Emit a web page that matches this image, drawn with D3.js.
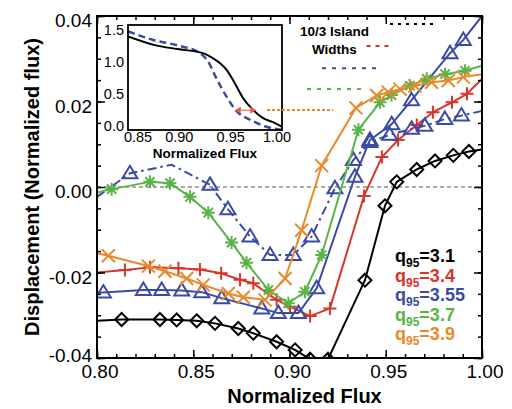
<!DOCTYPE html>
<html>
<head>
<meta charset="utf-8">
<script src="https://cdn.jsdelivr.net/npm/d3@7"></script>
<style>
  body { margin: 0; background: #fff; }
  svg { display: block; }
  text { font-family: "Liberation Sans", Arial, Helvetica, sans-serif; }
</style>
</head>
<body>
<svg id="chart" width="512" height="409"></svg>
<script>
// ---------- displacement profiles vs. normalized flux ----------
const fluxQ31 = [0.800, 0.8128, 0.8327, 0.8414, 0.8518, 0.8613, 0.8734, 0.8812, 0.8933, 0.9029, 0.9107, 0.9200, 0.9392, 0.9496, 0.9557, 0.9661, 0.9756, 0.9851, 0.9932, 1.000];
const dispQ31 = [-0.0313, -0.0310, -0.0310, -0.0311, -0.0313, -0.0319, -0.0331, -0.0342, -0.0362, -0.0381, -0.0403, -0.0403, -0.0218, -0.0044, 0.0012, 0.0041, 0.0061, 0.0074, 0.0083, 0.0088];

const fluxQ34 = [0.800, 0.8145, 0.8275, 0.8423, 0.8535, 0.8645, 0.8743, 0.8812, 0.8933, 0.9003, 0.9107, 0.9210, 0.9387, 0.9480, 0.9564, 0.9661, 0.9745, 0.9844, 0.9922, 1.000];
const dispQ34 = [-0.0200, -0.0194, -0.0188, -0.0190, -0.0193, -0.0202, -0.0217, -0.0225, -0.0264, -0.0280, -0.0302, -0.0284, -0.0021, 0.0070, 0.0110, 0.0145, 0.0175, 0.0198, 0.0218, 0.0253];

const fluxQ355 = [0.800, 0.8033, 0.8241, 0.8336, 0.8440, 0.8544, 0.8648, 0.8856, 0.8942, 0.9046, 0.9141, 0.9340, 0.9418, 0.9531, 0.9634, 0.9834, 0.9903, 1.000];
const dispQ355 = [-0.0247, -0.0247, -0.0241, -0.0241, -0.0242, -0.0246, -0.0260, -0.0284, -0.0295, -0.0295, -0.0237, 0.0024, 0.0110, 0.0147, 0.0203, 0.0313, 0.0344, 0.0400];

// second q95 = 3.55 profile (dash-dot); the peak near 0.839 is a bend with no symbol
const fluxQ355b = [0.800, 0.8171, 0.8388, 0.8587, 0.8680, 0.8795, 0.8899, 0.9020, 0.9115, 0.9236, 0.9332, 0.9418, 0.9520, 0.9634, 0.9703, 0.9807, 0.9893, 1.000];
const dispQ355b = [-0.0023, 0.0032, 0.0052, 0.0005, -0.0052, -0.0116, -0.0159, -0.0159, -0.0116, -0.0003, 0.0063, 0.0105, 0.0122, 0.0136, 0.0143, 0.0159, 0.0167, 0.0178];
const symbolQ355b = [0, 1, 0, 1, 1, 1, 1, 1, 1, 1, 1, 1, 1, 1, 1, 1, 1, 0];

const fluxQ37 = [0.800, 0.8076, 0.8275, 0.8379, 0.8483, 0.8578, 0.8699, 0.8777, 0.8890, 0.8994, 0.9080, 0.9167, 0.9358, 0.9470, 0.9530, 0.9626, 0.9713, 0.9808, 0.9912, 1.000];
const dispQ37 = [-0.0013, -0.0005, 0.0012, 0.0009, -0.0023, -0.0060, -0.0130, -0.0177, -0.0241, -0.0272, -0.0245, -0.0159, 0.0134, 0.0198, 0.0215, 0.0237, 0.0253, 0.0264, 0.0272, 0.0284];

const fluxQ39 = [0.800, 0.8059, 0.8267, 0.8353, 0.8466, 0.8552, 0.8682, 0.8760, 0.8873, 0.8977, 0.9063, 0.9167, 0.9345, 0.9453, 0.9513, 0.9574, 0.9652, 0.9738, 0.9825, 0.9903, 1.000];
const dispQ39 = [-0.0155, -0.0161, -0.0185, -0.0197, -0.0214, -0.0229, -0.0249, -0.0258, -0.0264, -0.0214, -0.0101, 0.0050, 0.0185, 0.0214, 0.0222, 0.0229, 0.0237, 0.0245, 0.0249, 0.0257, 0.0264];

const q95Values = ["3.1", "3.4", "3.55", "3.7", "3.9"];

// 10/3 island widths: [start flux, end flux] and the displacement level they are drawn at
const islandStart = [0.9522, 0.9400, 0.9169, 0.9091, 0.8883];
const islandEnd   = [0.9766, 0.9522, 0.9460, 0.9382, 0.9226];
const islandLevel = [0.0381, 0.0330, 0.0278, 0.0229, 0.0180];

// inset: profiles vs. normalized flux
const insetFluxSolid = [0.850, 0.875, 0.900, 0.923, 0.933, 0.940, 0.946, 0.953, 0.962, 0.972, 0.982, 0.990, 1.000];
const insetSolid     = [1.42, 1.29, 1.22, 1.16, 1.08, 1.00, 0.90, 0.72, 0.46, 0.27, 0.14, 0.09, 0.01];
const insetFluxDash  = [0.850, 0.874, 0.901, 0.920, 0.928, 0.936, 0.946, 0.956, 0.969, 0.985, 1.000];
const insetDash      = [1.50, 1.37, 1.27, 1.16, 1.03, 0.77, 0.48, 0.25, 0.12, 0.01, -0.04];
const insetArrowFrom = 0.954, insetArrowTo = 0.975, insetArrowLevel = 0.27;

const xTicks = [0.80, 0.85, 0.90, 0.95, 1.00];
const yTicks = [-0.04, -0.02, 0.00, 0.02, 0.04];
const insetXTicks = [0.85, 0.90, 0.95, 1.00];
const insetYTicks = [0.0, 0.5, 1.0, 1.5];

// ---------- drawing ----------
const svg = d3.select("#chart");
const fmt = d3.formatLocale({ decimal: ".", thousands: ",", grouping: [3], currency: ["", ""], minus: "-" });
const f2 = fmt.format(".2f"), f1 = fmt.format(".1f");

const L = 97, R = 482, T = 16, B = 358;
const x = d3.scaleLinear().domain([0.80, 1.00]).range([L, R]);
const y = d3.scaleLinear().domain([-0.04, 0.04]).range([B, T]);

const colors = ["#000000", "#d8352a", "#3b4ba3", "#59b448", "#e88a2c"];

const defs = svg.append("defs");
defs.append("clipPath").attr("id", "plotClip")
  .append("rect").attr("x", L).attr("y", T).attr("width", R - L).attr("height", B - T);

// zero reference line
svg.append("line")
  .attr("x1", x(0.80)).attr("x2", x(1.00)).attr("y1", y(0)).attr("y2", y(0))
  .attr("stroke", "#555").attr("stroke-width", 1).attr("stroke-dasharray", "4,3");

// marker shapes
const markerPath = {
  diamond: "M0,-6.5L6.5,0L0,6.5L-6.5,0Z",
  plus: "M-6.5,0H6.5M0,-6.5V6.5",
  triangle: "M0,-7.5L7.5,5L-7.5,5Z",
  asterisk: "M-6.5,0H6.5M0,-6.5V6.5M-4.6,-4.6L4.6,4.6M-4.6,4.6L4.6,-4.6",
  cross: "M-6.5,-6.5L6.5,6.5M-6.5,6.5L6.5,-6.5"
};

const series = [
  { fx: fluxQ31, dy: dispQ31, color: colors[0], mark: "diamond", dash: null },
  { fx: fluxQ34, dy: dispQ34, color: colors[1], mark: "plus", dash: null },
  { fx: fluxQ355, dy: dispQ355, color: colors[2], mark: "triangle", dash: null },
  { fx: fluxQ355b, dy: dispQ355b, color: colors[2], mark: "triangle", dash: "9,4,2.5,4", sym: symbolQ355b },
  { fx: fluxQ37, dy: dispQ37, color: colors[3], mark: "asterisk", dash: null },
  { fx: fluxQ39, dy: dispQ39, color: colors[4], mark: "cross", dash: null }
];

const plotG = svg.append("g").attr("clip-path", "url(#plotClip)");
const line = d3.line().x(d => x(d[0])).y(d => y(d[1]));

series.forEach(s => {
  const pts = s.fx.map((v, i) => [v, s.dy[i], s.sym ? s.sym[i] : (v > 0.8 && v < 1.0 ? 1 : 0)]);
  plotG.append("path")
    .attr("d", line(pts))
    .attr("fill", "none")
    .attr("stroke", s.color)
    .attr("stroke-width", 2)
    .attr("stroke-linejoin", "round")
    .attr("stroke-dasharray", s.dash);
  plotG.selectAll(null)
    .data(pts.filter(p => p[2]))
    .join("path")
    .attr("transform", p => `translate(${x(p[0])},${y(p[1])})`)
    .attr("d", markerPath[s.mark])
    .attr("fill", "none")
    .attr("stroke", s.color)
    .attr("stroke-width", 2)
    .attr("stroke-linejoin", "miter");
});

// ---------- main axes (inward ticks on all four sides) ----------
function ticksEvery(a, b, step) {
  const n = Math.round((b - a) / step);
  return d3.range(n + 1).map(i => +(a + i * step).toFixed(4));
}
const xMinor = ticksEvery(0.80, 1.00, 0.01);
const yMinor = ticksEvery(-0.04, 0.04, 0.005);

function axisTicks(g, gen, major, minor) {
  g.call(gen.tickValues(minor).tickSize(-4).tickFormat(""));
  g.append("g").call(gen.tickValues(major).tickSize(-8).tickFormat(""));
  g.selectAll("path.domain").remove();
  g.selectAll("line").attr("stroke", "#000").attr("stroke-width", 1.5);
}

axisTicks(svg.append("g").attr("transform", `translate(0,${B})`), d3.axisBottom(x), xTicks, xMinor);
axisTicks(svg.append("g").attr("transform", `translate(0,${T})`), d3.axisTop(x), xTicks, xMinor);
axisTicks(svg.append("g").attr("transform", `translate(${L},0)`), d3.axisLeft(y), yTicks, yMinor);
axisTicks(svg.append("g").attr("transform", `translate(${R},0)`), d3.axisRight(y), yTicks, yMinor);

svg.append("rect").attr("x", L).attr("y", T).attr("width", R - L).attr("height", B - T)
  .attr("fill", "none").attr("stroke", "#000").attr("stroke-width", 2);

// tick labels
svg.append("g").selectAll("text").data(xTicks).join("text")
  .attr("x", d => x(d) + 3).attr("y", B + 20)
  .attr("text-anchor", "middle").attr("font-size", 19).attr("fill", "#000")
  .text(d => f2(d));

svg.append("g").selectAll("text").data(yTicks).join("text")
  .attr("x", L - 5).attr("y", d => Math.min(y(d) + 11, B + 4))
  .attr("text-anchor", "end").attr("font-size", 19).attr("fill", "#000")
  .text(d => f2(d));

// axis titles
svg.append("text")
  .attr("x", (L + R) / 2 + 15).attr("y", 403)
  .attr("text-anchor", "middle").attr("font-size", 20).attr("font-weight", "bold")
  .text("Normalized Flux");

svg.append("text")
  .attr("transform", `translate(39,${(T + B) / 2}) rotate(-90)`)
  .attr("text-anchor", "middle").attr("font-size", 20).attr("font-weight", "bold")
  .text("Displacement (Normalized flux)");

// ---------- q95 legend ----------
const legend = svg.append("g");
q95Values.forEach((q, i) => {
  const t = legend.append("text")
    .attr("x", 395).attr("y", 262 + i * 19.5)
    .attr("font-size", 18).attr("font-weight", "bold").attr("fill", colors[i]);
  t.append("tspan").text("q");
  t.append("tspan").attr("font-size", 12).attr("dy", 5).text("95");
  t.append("tspan").attr("dy", -5).text("=" + q);
});

// ---------- inset ----------
const IL = 128, IR = 282, IT = 25, IB = 130;
const ix = d3.scaleLinear().domain([0.85, 1.00]).range([IL, IR]);
const iy = d3.scaleLinear().domain([-0.04, 1.60]).range([IB, IT]);

svg.append("rect").attr("x", IL).attr("y", IT).attr("width", IR - IL).attr("height", IB - IT)
  .attr("fill", "#fff");

defs.append("clipPath").attr("id", "insetClip")
  .append("rect").attr("x", IL).attr("y", IT).attr("width", IR - IL).attr("height", IB - IT);

const insetG = svg.append("g").attr("clip-path", "url(#insetClip)");
const iline = d3.line().x(d => ix(d[0])).y(d => iy(d[1])).curve(d3.curveMonotoneX);

insetG.append("path")
  .attr("d", iline(insetFluxDash.map((v, i) => [v, insetDash[i]])))
  .attr("fill", "none").attr("stroke", colors[2]).attr("stroke-width", 2.5)
  .attr("stroke-dasharray", "7,4");
insetG.append("path")
  .attr("d", iline(insetFluxSolid.map((v, i) => [v, insetSolid[i]])))
  .attr("fill", "none").attr("stroke", "#000").attr("stroke-width", 2);

// double-headed arrow between the two profiles
const arrowColor = "#e8584c";
const ay = iy(insetArrowLevel), a0 = ix(insetArrowFrom), a1 = ix(insetArrowTo);
insetG.append("line").attr("x1", a0 + 3).attr("x2", a1 - 3).attr("y1", ay).attr("y2", ay)
  .attr("stroke", "#ef8a80").attr("stroke-width", 1.5);
insetG.append("path").attr("d", `M${a0},${ay}l6,-3.5v7z`).attr("fill", arrowColor);
insetG.append("path").attr("d", `M${a1},${ay}l-6,-3.5v7z`).attr("fill", arrowColor);

svg.append("rect").attr("x", IL).attr("y", IT).attr("width", IR - IL).attr("height", IB - IT)
  .attr("fill", "none").attr("stroke", "#000").attr("stroke-width", 1.8);

svg.append("g").selectAll("text").data(insetXTicks).join("text")
  .attr("x", d => Math.max(IL + 10, Math.min(IR - 5, ix(d))))
  .attr("y", IB + 12)
  .attr("text-anchor", "middle").attr("font-size", 14.5)
  .text(d => f2(d));
svg.append("g").selectAll("text").data(insetYTicks).join("text")
  .attr("x", IL - 4).attr("y", d => iy(d) + 4)
  .attr("text-anchor", "end").attr("font-size", 14.5)
  .text(d => f1(d));
svg.append("text")
  .attr("x", (IL + IR) / 2).attr("y", 158)
  .attr("text-anchor", "middle").attr("font-size", 13.5).attr("font-weight", "bold")
  .text("Normalized Flux");

// ---------- island widths ----------
const widthDash = ["3,5", "4,5", "4,6", "4,6", "3,2"];
svg.append("g").selectAll("line").data(islandStart).join("line")
  .attr("x1", (d, i) => x(islandStart[i])).attr("x2", (d, i) => x(islandEnd[i]))
  .attr("y1", (d, i) => y(islandLevel[i])).attr("y2", (d, i) => y(islandLevel[i]))
  .attr("stroke", (d, i) => colors[i]).attr("stroke-width", 2)
  .attr("stroke-dasharray", (d, i) => widthDash[i]);

svg.append("text").attr("x", 300).attr("y", 36)
  .attr("font-size", 13.5).attr("font-weight", "bold").text("10/3 Island");
svg.append("text").attr("x", 312).attr("y", 54)
  .attr("font-size", 13.5).attr("font-weight", "bold").text("Widths");
</script>
</body>
</html>
